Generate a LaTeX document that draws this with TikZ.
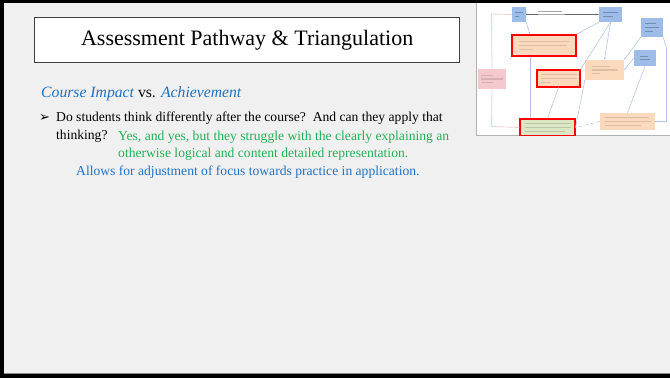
\documentclass[tikz,border=0pt]{standalone}
\usepackage{fontspec}
\setmainfont{Liberation Serif}
\newfontfamily\symfont{DejaVu Sans}
\usetikzlibrary{arrows.meta}

\definecolor{slidebg}{HTML}{F0F0F0}
\definecolor{accblue}{HTML}{1F72C4}
\definecolor{accgreen}{HTML}{25B158}
\definecolor{boxblue}{HTML}{9DBDE8}
\definecolor{boxorange}{HTML}{FBD9BC}
\definecolor{boxpink}{HTML}{F3C9CD}
\definecolor{boxgreen}{HTML}{DCE8C4}
\definecolor{linkblue}{HTML}{B5C6E4}
\definecolor{linkpink}{HTML}{EFCFD2}

% short bar standing for one line of small print
\newcommand\txtbar[1]{\rule{#1pt}{1.1pt}}

\tikzset{
  titlebox/.style={draw=black!75, line width=1.4pt, fill=white,
    minimum width=425pt, minimum height=45pt, anchor=north west},
  bodytext/.style={anchor=base west, inner sep=0pt,
    font=\fontsize{13.6}{16}\selectfont},
  chartbox/.style={inner sep=1pt, align=left,
    font=\fontsize{3.2}{3.7}\selectfont},
  bluebox/.style={chartbox, fill=boxblue, text=black!25!boxblue},
  orangebox/.style={chartbox, fill=boxorange, text=black!12!boxorange},
  pinkbox/.style={chartbox, fill=boxpink, text=black!12!boxpink},
  greenbox/.style={chartbox, fill=boxgreen, text=black!15!boxgreen},
  redframe/.style={draw=red, line width=1.1pt},
  link/.style={draw=linkblue, line width=0.6pt},
  pinklink/.style={draw=linkpink, line width=0.8pt},
}

\begin{document}
\begin{tikzpicture}[x=1pt,y=-1pt]
\useasboundingbox (0,0) rectangle (670,378);

% slide background and frame
\fill[slidebg] (0,0) rectangle (670,378);
\fill[black] (0,0) rectangle (670,3);
\fill[black] (0,0) rectangle (4,378);
\fill[black] (0,374) rectangle (670,378);
\draw[black!45, line width=0.8pt] (4,373.2) -- (670,373.2);

% title
\node[titlebox] (title) at (34,17) {};
\node[font=\fontsize{22}{26}\selectfont] (titletext) at (title.center)
  {Assessment Pathway \& Triangulation};

% heading
\node[anchor=base west, inner sep=0pt, font=\fontsize{15.7}{19}\selectfont] (heading) at (41,97)
  {{\color{accblue}\itshape Course Impact} vs. {\color{accblue}\itshape Achievement}};

% bullet text
\node[anchor=base west, inner sep=0pt, font=\symfont\fontsize{13}{14}\selectfont] (bullet) at (39,121) {➢};
\node[bodytext] (q1) at (56,121)
  {Do students think differently after the course?\ \ And can they apply that};
\node[bodytext] (q2) at (56,139) {thinking?};
\node[bodytext, text=accgreen] (a1) at (118,140)
  {Yes, and yes, but they struggle with the clearly explaining an};
\node[bodytext, text=accgreen] (a2) at (118,157)
  {otherwise logical and content detailed representation.};
\node[bodytext, text=accblue] (a3) at (76,175)
  {Allows for adjustment of focus towards practice in application.};

% flow chart panel
\fill[white] (476,3) rectangle (670,135.5);
\draw[black!30, line width=0.8pt] (476.4,3) -- (476.4,135.5) -- (670,135.5);
\fill[black] (470,0) rectangle (670,3);

\begin{scope}
  \clip (477,3) rectangle (670,135);

  \coordinate (pl1) at (491.5,14);
  \coordinate (pl2) at (491.5,126.5);
  \coordinate (rr1) at (666.5,48);
  \coordinate (rr2) at (666.5,121.5);

  \node[bluebox, minimum width=14pt, minimum height=15pt] (b1) at (519,14.5)
    {\txtbar{8}\\\txtbar{4}};
  \node[bluebox, minimum width=23pt, minimum height=15pt] (b2) at (610.5,14.5)
    {\txtbar{15}\\\txtbar{10}};
  \node[bluebox, minimum width=22pt, minimum height=19pt] (b3) at (652,27.5)
    {\txtbar{11}\\\txtbar{14}\\\txtbar{8}};
  \node[bluebox, minimum width=22pt, minimum height=16pt] (b4) at (645,58)
    {\txtbar{8}\\\txtbar{10}};
  \node[orangebox, redframe, minimum width=64pt, minimum height=21pt] (o1) at (544,45.5)
    {\txtbar{50}\\\txtbar{48}\\\txtbar{14}};
  \node[pinkbox, minimum width=28pt, minimum height=20pt] (pk) at (492,79)
    {\txtbar{12}\\\txtbar{22}\\\txtbar{12}};
  \node[orangebox, redframe, minimum width=43pt, minimum height=17pt] (o2) at (558.5,78.5)
    {\txtbar{36}\\\txtbar{36}\\\txtbar{10}};
  \node[orangebox, minimum width=39pt, minimum height=20pt] (o3) at (604.5,70)
    {\txtbar{18}\\\txtbar{26}\\\txtbar{8}};
  \node[greenbox, redframe, minimum width=55pt, minimum height=17pt] (g) at (547.5,127.5)
    {\txtbar{46}\\\txtbar{46}\\\txtbar{40}};
  \node[orangebox, minimum width=55pt, minimum height=17pt] (o4) at (627.5,121.5)
    {\txtbar{44}\\\txtbar{46}\\\txtbar{36}};

  \draw[pinklink] (b1.west) -- (pl1) -- (pk.north);
  \draw[pinklink] (pk.south) -- (pl2) -- (g.west);

  \draw[black!60, line width=0.5pt, -{Stealth[length=2.5pt]}] (b1.east) -- (b2.west);
  \node[inner sep=0pt, align=left, text=black!35, font=\fontsize{3.2}{3.7}\selectfont]
    (arrowlabel) at (551.5,13) {\txtbar{24}\\\txtbar{27}};

  \draw[link, -{Stealth[length=2.5pt]}] (b1.south east) -- (o1.north -| 530,0);
  \draw[link] (o1.south -| 530,0) -- (g.north -| 530,0);
  \draw[link, -{Stealth[length=2.5pt]}] (b2.south west) -- (o1.north east);
  \draw[link] (b2.south) -- (o2.north east);
  \draw[link, -{Stealth[length=2.5pt]}] (b2.south) -- (o3.north);
  \draw[link, -{Stealth[length=2.5pt]}] (b3.south west) -- (o3.north east);
  \draw[link, -{Stealth[length=2.5pt]}] (b4.west) -- (o3.east);
  \draw[link] (b4.south) -- (o4.north);
  \draw[link] (o2.south) -- (g.north);
  \draw[link] (o3.south west) -- (g.east);
  \draw[link, dashed] (o4.west) -- (g.east);
  \draw[link] (b3.south east) -- (rr1) -- (rr2) -- (o4.east);
\end{scope}
\end{tikzpicture}
\end{document}
